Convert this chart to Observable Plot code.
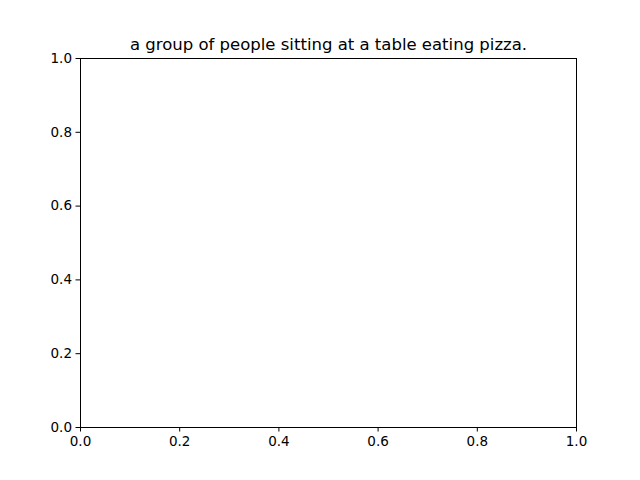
<!DOCTYPE html>
<html>
<head>
<meta charset="utf-8">
<script src="https://cdn.jsdelivr.net/npm/d3@7"></script>
<script src="https://cdn.jsdelivr.net/npm/@observablehq/plot@0.6"></script>
<style>
  body { margin: 0; background: white; }
</style>
</head>
<body>
<div id="chart"></div>
<script>
// empty axes, only a title
const chartTitle = "a group of people sitting at a table eating pizza."
const xTicks = [0, 0.2, 0.4, 0.6, 0.8, 1.0]
const yTicks = [0, 0.2, 0.4, 0.6, 0.8, 1.0]

let chart = Plot.plot({
  width: 640,
  height: 480,
  marginLeft: 80,
  marginRight: 64,
  marginTop: 58,
  marginBottom: 53,
  style: { fontFamily: "DejaVu Sans", fontSize: "13.5px", color: "black", background: "white" },
  x: { domain: [0, 1], ticks: xTicks, tickFormat: d3.format(".1f"), tickSize: 4.5, tickPadding: 4, label: null },
  y: { domain: [0, 1], ticks: yTicks, tickFormat: d3.format(".1f"), tickSize: 4.5, tickPadding: 4, label: null },
  marks: [
    Plot.frame({ stroke: "black", strokeWidth: 1 }),
    Plot.text([chartTitle], {
      text: d => d,
      frameAnchor: "top",
      dy: -20,
      fontSize: 16.5,
      fill: "black"
    })
  ]
})

d3.select('#chart').append(() => chart)
</script>
</body>
</html>
